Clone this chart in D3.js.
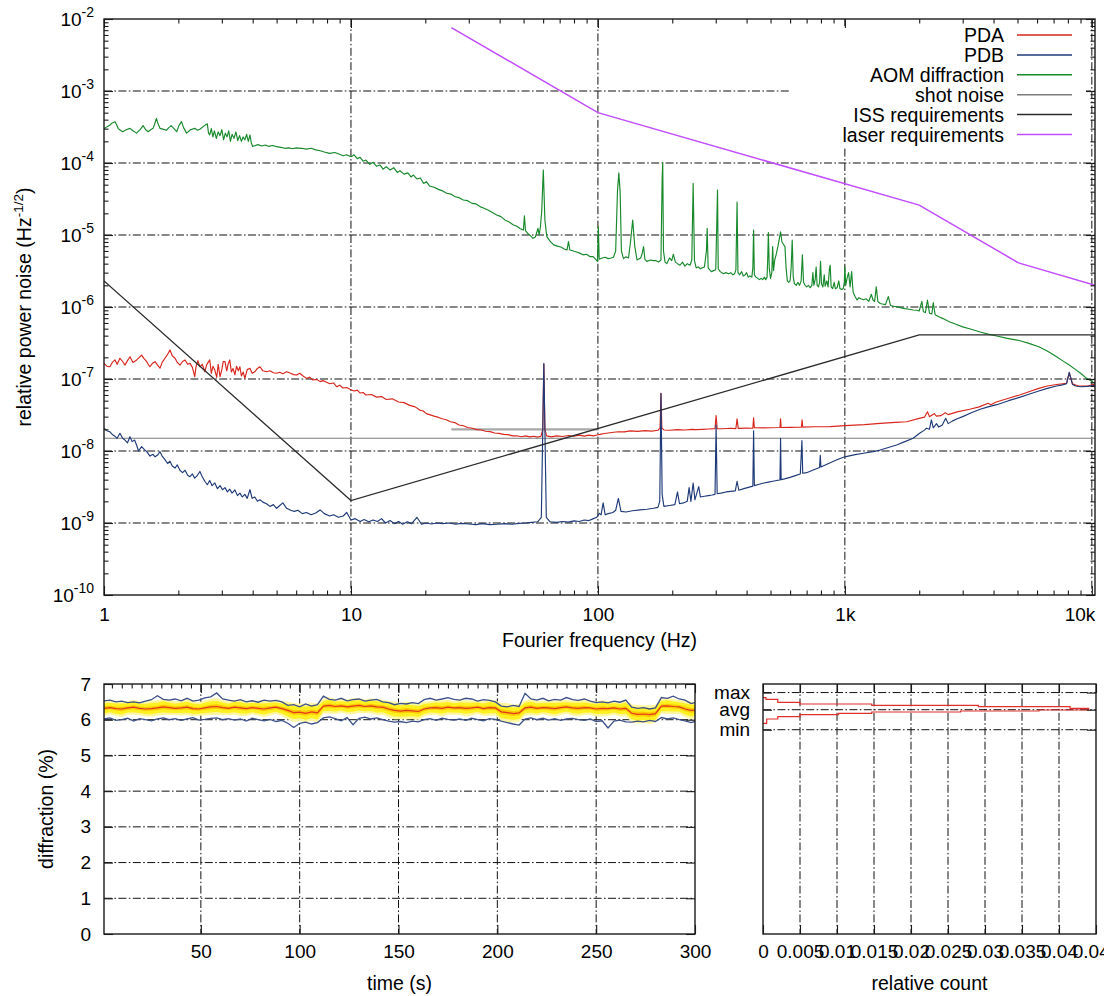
<!DOCTYPE html>
<html><head><meta charset="utf-8">
<script src="https://cdn.jsdelivr.net/npm/d3@7"></script>
<style>
html,body{margin:0;padding:0;background:#fff;}
svg{display:block;}
</style></head><body>
<svg id="c" width="1104" height="996"></svg>
<script>
// ---------------- DATA ----------------
// Spectra: [frequency (Hz), relative power noise (1/sqrt(Hz))]
const PDA = [[1,1.65e-7],[1.03,1.5e-7],[1.057,1.48e-7],[1.08,1.7e-7],[1.108,1.84e-7],[1.13,1.6e-7],[1.16,1.94e-7],[1.19,1.75e-7],[1.216,1.56e-7],[1.245,1.8e-7],[1.274,2.04e-7],[1.31,1.7e-7],[1.356,1.84e-7],[1.39,2.0e-7],[1.42,2.15e-7],[1.455,1.9e-7],[1.49,1.74e-7],[1.51,1.6e-7],[1.535,1.48e-7],[1.57,1.65e-7],[1.61,1.74e-7],[1.65,1.55e-7],[1.685,1.41e-7],[1.72,1.7e-7],[1.765,1.94e-7],[1.81,2.2e-7],[1.85,2.53e-7],[1.89,2.1e-7],[1.94,1.94e-7],[1.98,1.7e-7],[2.03,1.56e-7],[2.08,1.75e-7],[2.13,1.84e-7],[2.18,1.6e-7],[2.23,1.65e-7],[2.28,1.45e-7],[2.33,1.08e-7],[2.36,1.5e-7],[2.4,1.8e-7],[2.445,1.48e-7],[2.5,1.6e-7],[2.56,1.26e-7],[2.6,1.55e-7],[2.64,1.7e-7],[2.68,1.84e-7],[2.72,1.2e-7],[2.76,1.5e-7],[2.81,1.33e-7],[2.86,1.05e-7],[2.9,1.6e-7],[2.95,1.08e-7],[3.0,1.35e-7],[3.04,1.74e-7],[3.09,1.74e-7],[3.14,1.3e-7],[3.18,1.6e-7],[3.23,1.84e-7],[3.28,1.25e-7],[3.33,1.4e-7],[3.39,1.14e-7],[3.44,1.5e-7],[3.5,1.3e-7],[3.55,1.48e-7],[3.6,1.1e-7],[3.66,1.25e-7],[3.72,1.02e-7],[3.8,1.35e-7],[3.9,1.41e-7],[3.98,1.2e-7],[4.08,1.26e-7],[4.18,1.4e-7],[4.28,1.48e-7],[4.4,1.3e-7],[4.55,1.26e-7],[4.7,1.3e-7],[4.85,1.22e-7],[5.0,1.2e-7],[5.15,1.24e-7],[5.3,1.18e-7],[5.49,1.26e-7],[5.7,1.2e-7],[5.85,1.15e-7],[6.03,1.14e-7],[6.2,1.2e-7],[6.4,1.1e-7],[6.62,1.02e-7],[6.8,1.06e-7],[7.0,9.7e-8],[7.26,9.9e-8],[7.5,9.2e-8],[7.7,9.5e-8],[7.97,9.0e-8],[8.2,8.6e-8],[8.5,8.8e-8],[8.76,7.8e-8],[9.0,8.2e-8],[9.3,7.5e-8],[9.61,7.6e-8],[10,7.1e-8],[10.3,6.8e-8],[10.6,7.0e-8],[10.88,6.4e-8],[11.2,6.5e-8],[11.5,6.0e-8],[12.1,6.1e-8],[12.7,5.6e-8],[13.3,5.7e-8],[13.9,5.2e-8],[14.7,5.3e-8],[15.6,4.8e-8],[16.4,4.7e-8],[17.3,4.3e-8],[18.2,4.1e-8],[19.0,3.7e-8],[19.6,3.6e-8],[20.2,3.3e-8],[20.8,3.2e-8],[21.7,3.05e-8],[22.5,2.95e-8],[23.4,2.8e-8],[24.3,2.72e-8],[25.3,2.55e-8],[26.3,2.48e-8],[27.4,2.3e-8],[28.5,2.24e-8],[29.7,2.12e-8],[31,2.07e-8],[32.3,1.98e-8],[33.7,1.96e-8],[35.1,1.88e-8],[36.6,1.86e-8],[38.2,1.78e-8],[39.8,1.76e-8],[41.5,1.7e-8],[43.3,1.69e-8],[45.1,1.62e-8],[46.9,1.63e-8],[49,1.58e-8],[51,1.62e-8],[53,1.57e-8],[55,1.6e-8],[57,1.56e-8],[58.8,1.6e-8],[59.8,2e-8],[60.4,1.6e-7],[61,2e-8],[62,1.62e-8],[65,1.57e-8],[68,1.62e-8],[72,1.59e-8],[76,1.64e-8],[80,1.6e-8],[84,1.66e-8],[88,1.61e-8],[92,1.66e-8],[96,1.62e-8],[99,1.67e-8],[102,1.7e-8],[106,1.75e-8],[110,1.78e-8],[116,1.82e-8],[121,1.85e-8],[128,1.84e-8],[135,1.9e-8],[145,1.87e-8],[155,1.92e-8],[165,1.89e-8],[175,1.94e-8],[178.5,2.1e-8],[180,6.3e-8],[181.5,2.1e-8],[185,1.96e-8],[195,1.94e-8],[210,1.98e-8],[225,1.96e-8],[240,2.0e-8],[250,1.98e-8],[265,2.0e-8],[280,2.02e-8],[298,2.05e-8],[301,3.1e-8],[304,2.05e-8],[320,2.04e-8],[343,2.07e-8],[362,2.05e-8],[366,2.8e-8],[370,2.06e-8],[400,2.08e-8],[424,2.07e-8],[427,2.9e-8],[430,2.1e-8],[467,2.09e-8],[500,2.1e-8],[546,2.12e-8],[549,2.8e-8],[552,2.12e-8],[600,2.13e-8],[636,2.14e-8],[667,2.15e-8],[671,2.7e-8],[675,2.15e-8],[750,2.17e-8],[870,2.18e-8],[1000,2.25e-8],[1200,2.32e-8],[1390,2.42e-8],[1600,2.5e-8],[1780,2.55e-8],[2000,2.84e-8],[2100,2.95e-8],[2160,3.5e-8],[2200,3.0e-8],[2300,3.3e-8],[2350,3.05e-8],[2450,3.1e-8],[2550,3.4e-8],[2620,3.2e-8],[2850,3.5e-8],[3200,3.8e-8],[3500,4.1e-8],[3800,4.6e-8],[3900,4.4e-8],[4100,4.8e-8],[4600,5.4e-8],[5100,6.0e-8],[5600,6.7e-8],[6100,7.4e-8],[6600,8.0e-8],[7200,8.4e-8],[7900,8.7e-8],[8100,1.22e-7],[8350,8.6e-8],[8800,8.0e-8],[9600,8.0e-8],[10300,8.5e-8]];

const PDB = [[1,2.07e-8],[1.03,1.9e-8],[1.057,1.85e-8],[1.08,1.7e-8],[1.108,1.6e-8],[1.13,1.5e-8],[1.16,1.76e-8],[1.19,1.5e-8],[1.216,1.42e-8],[1.245,1.3e-8],[1.274,1.58e-8],[1.3,1.35e-8],[1.33,1.42e-8],[1.356,1.2e-8],[1.38,1.0e-8],[1.42,1.15e-8],[1.455,1.05e-8],[1.49,9.8e-9],[1.535,8.5e-9],[1.58,9.0e-9],[1.61,8.3e-9],[1.65,8.8e-9],[1.685,9.8e-9],[1.72,8.5e-9],[1.765,7.6e-9],[1.81,6.7e-9],[1.85,7.2e-9],[1.89,6.2e-9],[1.94,5.8e-9],[1.98,6.4e-9],[2.03,5.4e-9],[2.08,5.0e-9],[2.13,5.4e-9],[2.18,4.6e-9],[2.23,4.4e-9],[2.28,4.8e-9],[2.33,4.2e-9],[2.39,4.6e-9],[2.445,5.2e-9],[2.5,4.4e-9],[2.56,3.8e-9],[2.62,3.4e-9],[2.68,3.9e-9],[2.74,3.3e-9],[2.81,3.6e-9],[2.88,3.0e-9],[2.95,3.3e-9],[3.02,2.9e-9],[3.09,3.1e-9],[3.16,2.7e-9],[3.23,2.95e-9],[3.3,2.6e-9],[3.39,2.88e-9],[3.47,2.4e-9],[3.55,2.6e-9],[3.63,2.3e-9],[3.72,2.5e-9],[3.8,2.2e-9],[3.9,2.9e-9],[3.98,2.2e-9],[4.08,2.3e-9],[4.18,2.0e-9],[4.28,2.1e-9],[4.4,1.95e-9],[4.55,1.85e-9],[4.7,1.7e-9],[4.85,1.8e-9],[5.0,1.6e-9],[5.15,1.75e-9],[5.3,1.9e-9],[5.49,1.6e-9],[5.7,1.5e-9],[5.9,1.45e-9],[6.1,1.5e-9],[6.35,1.35e-9],[6.6,1.4e-9],[6.9,1.3e-9],[7.2,1.38e-9],[7.5,1.52e-9],[7.8,1.35e-9],[8.2,1.25e-9],[8.5,1.3e-9],[8.9,1.2e-9],[9.3,1.25e-9],[9.61,1.4e-9],[10,1.1e-9],[10.4,1.15e-9],[10.9,1.05e-9],[11.3,1.12e-9],[11.8,1.04e-9],[12.3,1.1e-9],[12.8,1.05e-9],[13.3,1.15e-9],[13.8,1.0e-9],[14.4,1.08e-9],[15.0,0.98e-9],[15.6,1.05e-9],[16.2,0.96e-9],[16.9,1.04e-9],[17.6,0.98e-9],[18.5,1.2e-9],[19.3,0.96e-9],[20.2,1.0e-9],[21.2,0.97e-9],[22.3,1.0e-9],[23.5,0.98e-9],[25,1.0e-9],[26.5,0.96e-9],[28,0.99e-9],[30,0.97e-9],[32,0.95e-9],[34,0.98e-9],[36.5,0.95e-9],[39,0.96e-9],[42,0.98e-9],[45,0.96e-9],[48,0.99e-9],[51,1.0e-9],[54,1.02e-9],[57,1.04e-9],[59,1.2e-9],[59.8,2e-8],[60.4,1.65e-7],[61,2e-8],[61.8,1.2e-9],[64,1.04e-9],[68,1.02e-9],[72,1.05e-9],[76,1.03e-9],[80,1.07e-9],[84,1.05e-9],[88,1.1e-9],[92,1.08e-9],[96,1.15e-9],[99,1.2e-9],[101.3,1.36e-9],[103,1.3e-9],[105,1.9e-9],[107,1.3e-9],[110,1.35e-9],[115,1.4e-9],[118,1.5e-9],[121,2.2e-9],[124,1.45e-9],[130,1.42e-9],[138,1.48e-9],[148,1.52e-9],[158,1.55e-9],[168,1.6e-9],[175,1.65e-9],[178,2e-9],[180,6.3e-8],[182,2.5e-9],[185,1.7e-9],[195,1.75e-9],[205,1.8e-9],[210,2.7e-9],[214,1.85e-9],[222,1.9e-9],[230,2.0e-9],[234,3.1e-9],[238,2.0e-9],[243,3.6e-9],[247,2.1e-9],[256,3.2e-9],[260,2.3e-9],[270,2.35e-9],[280,2.4e-9],[290,2.45e-9],[298,2.5e-9],[301,2.3e-8],[304,2.55e-9],[315,2.6e-9],[330,2.7e-9],[345,2.75e-9],[360,2.8e-9],[366,3.8e-9],[372,2.85e-9],[390,3.0e-9],[410,3.15e-9],[424,3.25e-9],[427,1.9e-8],[430,3.3e-9],[450,3.45e-9],[470,3.6e-9],[490,3.7e-9],[510,3.8e-9],[530,3.9e-9],[546,3.95e-9],[549,1.5e-8],[552,4.0e-9],[570,4.1e-9],[600,4.3e-9],[630,4.55e-9],[660,4.8e-9],[670,1.4e-8],[675,4.9e-9],[700,5.0e-9],[740,5.4e-9],[790,5.9e-9],[795,8.7e-9],[800,6.0e-9],[850,6.6e-9],[900,7.2e-9],[950,7.8e-9],[1000,8.3e-9],[1100,8.9e-9],[1190,9.3e-9],[1300,9.8e-9],[1390,1.03e-8],[1500,1.12e-8],[1620,1.21e-8],[1750,1.35e-8],[1890,1.5e-8],[2000,1.75e-8],[2100,1.95e-8],[2140,2.07e-8],[2200,2.0e-8],[2240,2.7e-8],[2280,2.1e-8],[2350,2.4e-8],[2400,2.15e-8],[2480,2.3e-8],[2560,2.84e-8],[2620,2.4e-8],[2720,2.6e-8],[2850,2.8e-8],[3000,3.0e-8],[3250,3.4e-8],[3530,3.8e-8],[3800,4.1e-8],[4120,4.4e-8],[4600,5.0e-8],[5130,5.6e-8],[5600,6.2e-8],[6100,6.8e-8],[6600,7.4e-8],[7200,8.0e-8],[7600,8.3e-8],[7900,8.6e-8],[8100,1.24e-7],[8350,8.4e-8],[8600,8.0e-8],[9000,7.8e-8],[9600,7.9e-8],[10300,8.2e-8]];

const AOM = [[1,3.0e-4],[1.03,3.2e-4],[1.057,3.37e-4],[1.08,3.6e-4],[1.108,3.75e-4],[1.125,3.4e-4],[1.14,3.03e-4],[1.165,2.85e-4],[1.19,2.72e-4],[1.23,2.9e-4],[1.274,3.03e-4],[1.31,2.8e-4],[1.356,2.6e-4],[1.4,2.9e-4],[1.44,3.3e-4],[1.475,2.9e-4],[1.51,2.72e-4],[1.545,2.9e-4],[1.58,3.03e-4],[1.6,3.4e-4],[1.63,4.17e-4],[1.655,3.5e-4],[1.685,3.03e-4],[1.73,2.95e-4],[1.79,2.85e-4],[1.83,3.1e-4],[1.87,3.3e-4],[1.92,3.0e-4],[1.97,2.72e-4],[2.01,3.3e-4],[2.06,3.75e-4],[2.1,3.1e-4],[2.16,2.6e-4],[2.24,2.9e-4],[2.33,3.03e-4],[2.39,2.85e-4],[2.445,2.95e-4],[2.52,3.2e-4],[2.58,3.4e-4],[2.62,3.5e-4],[2.65,2.6e-4],[2.68,2.45e-4],[2.72,3.0e-4],[2.76,2.3e-4],[2.8,2.8e-4],[2.85,2.2e-4],[2.9,2.7e-4],[2.95,2.4e-4],[3.0,2.9e-4],[3.05,2.1e-4],[3.1,2.6e-4],[3.15,2.3e-4],[3.2,2.8e-4],[3.25,2.0e-4],[3.3,2.5e-4],[3.36,2.2e-4],[3.42,2.7e-4],[3.48,2.05e-4],[3.54,2.4e-4],[3.6,2.0e-4],[3.66,2.3e-4],[3.72,2.1e-4],[3.78,2.5e-4],[3.84,2.0e-4],[3.9,2.45e-4],[3.95,1.9e-4],[4.0,1.69e-4],[4.1,1.75e-4],[4.2,1.8e-4],[4.35,1.72e-4],[4.5,1.78e-4],[4.65,1.7e-4],[4.8,1.75e-4],[5.0,1.69e-4],[5.2,1.65e-4],[5.4,1.6e-4],[5.6,1.62e-4],[5.8,1.58e-4],[6.0,1.62e-4],[6.3,1.6e-4],[6.6,1.56e-4],[6.9,1.6e-4],[7.2,1.52e-4],[7.5,1.48e-4],[7.8,1.42e-4],[8.2,1.36e-4],[8.6,1.4e-4],[9.0,1.32e-4],[9.3,1.26e-4],[9.6,1.3e-4],[10,1.22e-4],[10.3,1.3e-4],[10.6,1.15e-4],[10.9,1.2e-4],[11.2,1.06e-4],[11.5,1.1e-4],[11.9,9.6e-5],[12.3,1.02e-4],[12.7,9.0e-5],[13.1,9.4e-5],[13.5,8.2e-5],[13.9,8.9e-5],[14.4,8.0e-5],[14.9,8.6e-5],[15.4,7.4e-5],[15.8,7.8e-5],[16.4,7.0e-5],[17.0,7.3e-5],[17.5,6.4e-5],[17.9,6.8e-5],[18.5,6.0e-5],[19.1,6.2e-5],[19.7,5.2e-5],[20.2,5.5e-5],[20.8,4.8e-5],[21.7,4.6e-5],[22.6,4.3e-5],[23.5,4.1e-5],[24.4,3.8e-5],[25.4,3.7e-5],[26.4,3.4e-5],[27.4,3.3e-5],[28.5,3.06e-5],[29.7,3.0e-5],[30.9,2.75e-5],[32.1,2.7e-5],[33.3,2.48e-5],[34.6,2.35e-5],[36.0,2.2e-5],[37.4,2.05e-5],[38.9,1.9e-5],[40.5,1.8e-5],[42,1.62e-5],[43.7,1.52e-5],[45.5,1.38e-5],[47,1.32e-5],[48.5,1.22e-5],[49.9,1.17e-5],[50.4,1.84e-5],[50.9,1.15e-5],[52,1.05e-5],[53.3,9.8e-6],[54.6,9.0e-6],[55.8,9.4e-6],[56.6,1.1e-5],[57.2,1.24e-5],[57.8,1.0e-5],[58.5,1.3e-5],[59.2,2.1e-5],[60.1,8.0e-5],[61,1.6e-5],[62.1,9.5e-6],[64,8.2e-6],[66.2,7.3e-6],[68.5,7.0e-6],[70.8,6.8e-6],[73,6.4e-6],[75,6.2e-6],[76,8.1e-6],[77,6.2e-6],[79.5,6.0e-6],[82,5.8e-6],[84.4,5.6e-6],[87,5.3e-6],[90,5.4e-6],[93,5.0e-6],[95.7,5.0e-6],[98,4.6e-6],[99.6,4.3e-6],[100.4,1.3e-5],[101.2,4.6e-6],[104,4.8e-6],[107,4.9e-6],[110,4.7e-6],[113,4.8e-6],[115.6,4.9e-6],[118,6e-6],[120,4.0e-5],[121.5,7.3e-5],[123,4.0e-5],[124.5,6e-6],[126.9,4.7e-6],[130,5.0e-6],[133,4.8e-6],[135.5,8e-6],[138.3,1.61e-5],[141,7e-6],[144,4.5e-6],[149,4.8e-6],[151,5.5e-6],[153,6.9e-6],[155,4.6e-6],[157.8,4.3e-6],[163,4.5e-6],[168,4.4e-6],[172,4.4e-6],[176,4.2e-6],[180,4.5e-6],[182,6e-5],[183,1.01e-4],[184.3,6e-6],[187,4.2e-6],[190,4.0e-6],[195,4.8e-6],[199,4.4e-6],[202,5.4e-6],[206,4.2e-6],[210,4.0e-6],[215,3.8e-6],[220,4.2e-6],[225,3.7e-6],[230,4.0e-6],[236,3.8e-6],[240,4.5e-6],[243,5.2e-5],[246,4.4e-6],[250,3.5e-6],[255,3.6e-6],[260,3.4e-6],[265,3.5e-6],[270,3.6e-6],[275,6e-6],[277,1.24e-5],[279.5,3.5e-6],[283,3.3e-6],[288,3.1e-6],[294,3.2e-6],[300,3.3e-6],[303,1.5e-5],[305,4.2e-5],[307,3.4e-6],[313,3.1e-6],[322,2.9e-6],[330,3.0e-6],[338,2.9e-6],[345,3.0e-6],[352,2.8e-6],[358,2.9e-6],[362,3.3e-6],[366,2.87e-5],[369,3.0e-6],[375,2.8e-6],[382,3.1e-6],[388,2.7e-6],[395,2.8e-6],[400,3.0e-6],[406,2.6e-6],[412,2.7e-6],[420,2.6e-6],[424,3.5e-6],[427,1.17e-5],[430,2.8e-6],[436,2.6e-6],[444,2.5e-6],[451,2.4e-6],[458,2.5e-6],[465,2.4e-6],[472,2.6e-6],[478,2.4e-6],[484,2.6e-6],[487,4.5e-6],[490,1.08e-5],[494,3.5e-6],[500,2.5e-6],[506,3.0e-6],[510,6.9e-6],[514,3.2e-6],[520,4.5e-6],[528,5.5e-6],[536,7.0e-6],[543,9.0e-6],[549,1.11e-5],[556,8.0e-6],[563,7.5e-6],[572,6.9e-6],[578,3.5e-6],[585,2.3e-6],[592,2.2e-6],[600,2.3e-6],[606,3.5e-6],[612,8.5e-6],[618,2.6e-6],[625,2.1e-6],[636,2.0e-6],[645,2.2e-6],[655,2.0e-6],[665,2.3e-6],[673,5.3e-6],[680,2.2e-6],[690,2.0e-6],[700,1.9e-6],[712,2.0e-6],[724,1.85e-6],[735,2.0e-6],[742,3.0e-6],[749,2.0e-6],[758,2.4e-6],[765,3.6e-6],[772,2.0e-6],[782,1.9e-6],[790,2.2e-6],[797,4.3e-6],[804,2.1e-6],[815,1.9e-6],[825,2.8e-6],[832,1.95e-6],[845,2.3e-6],[855,1.9e-6],[866,3.4e-6],[872,3.8e-6],[880,1.9e-6],[892,1.8e-6],[905,2.2e-6],[915,1.8e-6],[930,1.85e-6],[945,2.3e-6],[955,1.8e-6],[970,1.75e-6],[985,1.8e-6],[995,2.2e-6],[1000,3.6e-6],[1008,2.0e-6],[1020,2.5e-6],[1035,3.0e-6],[1050,1.9e-6],[1065,3.1e-6],[1080,1.6e-6],[1100,1.4e-6],[1120,1.25e-6],[1140,1.35e-6],[1160,1.3e-6],[1190,1.26e-6],[1220,1.3e-6],[1250,1.2e-6],[1280,1.5e-6],[1300,1.25e-6],[1320,1.2e-6],[1340,1.9e-6],[1360,1.2e-6],[1390,1.12e-6],[1420,1.1e-6],[1460,1.08e-6],[1500,1.4e-6],[1530,1.05e-6],[1580,1.02e-6],[1620,1.01e-6],[1680,9.8e-7],[1750,9.5e-7],[1820,9.3e-7],[1890,9.1e-7],[1950,9.0e-7],[2000,8.8e-7],[2050,1.2e-6],[2080,8.6e-7],[2120,8.4e-7],[2160,1.25e-6],[2200,8.2e-7],[2250,8.0e-7],[2280,1.15e-6],[2320,7.8e-7],[2400,7.3e-7],[2500,6.9e-7],[2630,6.3e-7],[2800,5.8e-7],[3000,5.3e-7],[3250,4.9e-7],[3530,4.5e-7],[3800,4.2e-7],[4120,3.95e-7],[4500,3.7e-7],[5130,3.4e-7],[5600,3.1e-7],[6100,2.8e-7],[6600,2.45e-7],[7200,2.04e-7],[7600,1.8e-7],[8100,1.56e-7],[8600,1.35e-7],[9000,1.2e-7],[9500,1.03e-7],[10300,8.7e-8]];

const SHOT = [[1,1.5e-8],[10300,1.5e-8]];
const SHOT_SEG = [[25.5,2.0e-8],[100,2.0e-8]];
const ISS = [[1,2.3e-6],[10,2.05e-9],[2000,4.1e-7],[10300,4.1e-7]];
const LASER = [[25.5,7.6e-3],[100,5.0e-4],[2000,2.6e-5],[5050,4.1e-6],[10300,2.0e-6]];

const legendNames = ['PDA','PDB','AOM diffraction','shot noise','ISS requirements','laser requirements'];

const freqTicks = [1,10,100,1000,10000];
const freqTickLabels = ['1','10','100','1k','10k'];
const noiseTicks = [1e-10,1e-9,1e-8,1e-7,1e-6,1e-5,1e-4,1e-3,1e-2];
const noiseTickExp = ['-10','-9','-8','-7','-6','-5','-4','-3','-2'];

// Time series of the diffraction (%)
const times = [1,4,7,10,13,16,19,22,25,28,31,34,37,40,43,46,49,52,55,58,61,64,67,70,73,76,79,82,85,88,91,94,97,100,103,106,109,112,115,118,121,124,127,130,133,136,139,142,145,148,151,154,157,160,163,166,169,172,175,178,181,184,187,190,193,196,199,202,205,208,211,214,217,220,223,226,229,232,235,238,241,244,247,250,253,256,259,262,265,268,271,274,277,280,283,286,289,292,295,298,300];
const diffAvg = [6.32,6.34,6.31,6.30,6.33,6.35,6.32,6.30,6.31,6.33,6.36,6.34,6.32,6.33,6.35,6.31,6.30,6.33,6.36,6.37,6.34,6.32,6.35,6.33,6.31,6.34,6.32,6.30,6.33,6.35,6.31,6.26,6.20,6.21,6.18,6.22,6.19,6.38,6.40,6.37,6.39,6.36,6.38,6.40,6.37,6.39,6.36,6.35,6.30,6.26,6.24,6.26,6.25,6.23,6.30,6.33,6.34,6.32,6.35,6.33,6.34,6.32,6.33,6.35,6.31,6.34,6.33,6.22,6.20,6.17,6.19,6.33,6.35,6.32,6.34,6.33,6.31,6.34,6.36,6.33,6.32,6.34,6.33,6.30,6.32,6.31,6.33,6.30,6.32,6.18,6.15,6.16,6.14,6.17,6.38,6.39,6.37,6.36,6.30,6.26,6.27];
const diffMax = [6.53,6.55,6.50,6.52,6.48,6.50,6.47,6.52,6.56,6.67,6.57,6.55,6.58,6.53,6.60,6.52,6.55,6.61,6.64,6.75,6.58,6.55,6.52,6.56,6.50,6.53,6.49,6.55,6.52,6.54,6.50,6.40,6.42,6.36,6.44,6.38,6.42,6.66,6.57,6.55,6.60,6.53,6.56,6.58,6.52,6.55,6.57,6.50,6.48,6.42,6.46,6.44,6.48,6.45,6.56,6.60,6.55,6.58,6.62,6.57,6.55,6.60,6.58,6.52,6.56,6.54,6.50,6.38,6.36,6.40,6.37,6.74,6.58,6.55,6.60,6.53,6.57,6.55,6.62,6.56,6.54,6.58,6.52,6.48,6.50,6.47,6.52,6.49,6.55,6.35,6.32,6.34,6.30,6.33,6.62,6.60,6.66,6.58,6.55,6.45,6.48];
const diffMin = [6.02,6.05,5.98,6.00,6.04,5.96,6.03,6.00,5.97,6.02,6.05,6.00,6.03,5.98,6.02,6.06,5.99,6.01,6.04,6.05,6.00,6.03,5.99,6.02,5.96,6.04,6.00,5.97,6.01,5.95,5.98,5.90,5.78,5.90,5.93,5.88,5.92,6.05,6.08,6.03,5.97,6.06,5.86,6.04,6.07,6.02,6.05,6.00,5.96,5.93,5.95,5.92,5.96,5.94,6.00,6.03,5.98,6.04,6.01,5.99,6.02,5.98,6.04,6.00,5.97,6.03,6.01,5.96,5.92,5.88,5.85,6.02,6.05,6.00,6.04,5.99,6.03,5.98,6.02,6.04,6.00,5.98,6.02,5.95,5.97,5.77,5.96,5.99,5.94,5.93,5.96,5.94,5.98,5.95,6.06,6.02,6.05,6.00,5.97,5.92,5.95];
const diffSd = [0.11,0.10,0.11,0.12,0.10,0.11,0.10,0.11,0.12,0.11,0.12,0.11,0.10,0.11,0.12,0.11,0.10,0.11,0.12,0.12,0.11,0.10,0.11,0.12,0.11,0.10,0.11,0.12,0.11,0.10,0.11,0.13,0.14,0.13,0.14,0.13,0.14,0.11,0.12,0.11,0.10,0.11,0.12,0.11,0.10,0.11,0.12,0.11,0.12,0.13,0.12,0.13,0.12,0.12,0.11,0.10,0.11,0.12,0.11,0.10,0.11,0.12,0.11,0.10,0.11,0.12,0.11,0.13,0.14,0.13,0.13,0.11,0.12,0.11,0.10,0.11,0.12,0.11,0.10,0.11,0.12,0.11,0.10,0.11,0.12,0.11,0.10,0.11,0.12,0.13,0.14,0.13,0.14,0.13,0.11,0.12,0.11,0.10,0.12,0.13,0.12];
const timeTicks = [50,100,150,200,250,300];
const diffTicks = [0,1,2,3,4,5,6,7];

// Histogram of diffraction values (bin edges in %, relative counts)
const histEdges = [6.62,6.571,6.487,6.44,6.403,6.365,6.319,6.272,6.244,6.216,6.179,6.141,6.085,6.02,5.90];
const histCounts = [0.0004,0.002,0.005,0.0147,0.0291,0.0415,0.044,0.0373,0.0267,0.0147,0.0102,0.005,0.002,0.0005];
const countTicks = [0,0.005,0.01,0.015,0.02,0.025,0.03,0.035,0.04,0.045];
const countTickLabels = ['0','0.005','0.01','0.015','0.02','0.025','0.03','0.035','0.04','0.045'];
const statTicks = [6.76,6.28,5.72];
const statTickLabels = ['max','avg','min'];

// ---------------- DRAWING ----------------
const FONT = '"Liberation Sans", Arial, Helvetica, sans-serif';
const TICKFS = 19, TITLEFS = 19.5;
const GRID_DASH = '8,2.4,1.6,2.4';
const COL = {pda:'#d8261d', pdb:'#1f3a78', aom:'#17892b', shot:'#7d7d7d', iss:'#2a2a2a', laser:'#c24cff'};
const svg = d3.select('#c').attr('font-family', FONT);

function cleanAxis(g, fs){
  g.attr('font-family', FONT).attr('font-size', fs || TICKFS);
  g.select('.domain').remove();
  g.selectAll('.tick line').attr('stroke','#1a1a1a').attr('stroke-width',1.1);
  g.selectAll('.tick text').attr('fill','#000');
}

// ===== Top panel =====
const T = {l:104, r:1095, t:19, b:595};
const x = d3.scaleLog().domain([1,10300]).range([T.l,T.r]);
const y = d3.scaleLog().domain([1e-10,1e-2]).range([T.b,T.t]);

svg.append('clipPath').attr('id','clipT').append('rect')
  .attr('x',T.l).attr('y',T.t).attr('width',T.r-T.l).attr('height',T.b-T.t);

const gT = svg.append('g');
// grid
gT.append('g').selectAll('line').data(freqTicks.slice(1)).join('line')
  .attr('x1',d=>x(d)).attr('x2',d=>x(d)).attr('y1',T.t).attr('y2',T.b)
  .attr('stroke','#111').attr('stroke-width',1).attr('stroke-dasharray',GRID_DASH);
gT.append('g').selectAll('line').data(noiseTicks.slice(1,-1)).join('line')
  .attr('x1',T.l).attr('x2',T.r).attr('y1',d=>y(d)).attr('y2',d=>y(d))
  .attr('stroke','#111').attr('stroke-width',1).attr('stroke-dasharray',GRID_DASH);

const line = d3.line().x(d=>x(d[0])).y(d=>y(d[1]));
const gD = gT.append('g').attr('clip-path','url(#clipT)').attr('fill','none');
gD.append('path').datum(SHOT_SEG).attr('d',line).attr('stroke','#a8a8a8').attr('stroke-width',2.4);
gD.append('path').datum(SHOT).attr('d',line).attr('stroke',COL.shot).attr('stroke-width',1.1);
gD.append('path').datum(AOM).attr('d',line).attr('stroke',COL.aom).attr('stroke-width',1.15).attr('stroke-linejoin','round');
gD.append('path').datum(PDA).attr('d',line).attr('stroke',COL.pda).attr('stroke-width',1.15).attr('stroke-linejoin','round');
gD.append('path').datum(PDB).attr('d',line).attr('stroke',COL.pdb).attr('stroke-width',1.15).attr('stroke-linejoin','round');
gD.append('path').datum(ISS).attr('d',line).attr('stroke',COL.iss).attr('stroke-width',1.3);
gD.append('path').datum(LASER).attr('d',line).attr('stroke',COL.laser).attr('stroke-width',1.5);

// legend
gT.append('rect').attr('x',791).attr('y',26).attr('width',295).attr('height',122).attr('fill','#fff');
const legCols = [COL.pda,COL.pdb,COL.aom,COL.shot,COL.iss,COL.laser];
const lg = gT.append('g');
legendNames.forEach((n,i)=>{
  const yy = 35 + i*19.9;
  lg.append('text').attr('x',1004).attr('y',yy+7).attr('text-anchor','end')
    .attr('font-size',TITLEFS).attr('fill','#000').text(n);
  lg.append('line').attr('x1',1017).attr('x2',1072).attr('y1',yy).attr('y2',yy)
    .attr('stroke',legCols[i]).attr('stroke-width',1.5);
});

// axes ticks
const xMinor = x.ticks().filter(d=>!freqTicks.includes(d));
const yMinor = y.ticks().filter(d=>!noiseTicks.some(t=>Math.abs(t-d)/t<1e-6));
let g;
g = gT.append('g').attr('transform',`translate(0,${T.b})`)
  .call(d3.axisBottom(x).tickValues(freqTicks).tickFormat((d,i)=>freqTickLabels[i]).tickSizeInner(-9).tickSizeOuter(0).tickPadding(13));
cleanAxis(g);
g.selectAll('.tick text').filter((d,i)=>i===freqTicks.length-1).attr('text-anchor','end').attr('dx',3);
g = gT.append('g').attr('transform',`translate(0,${T.b})`)
  .call(d3.axisBottom(x).tickValues(xMinor).tickFormat('').tickSizeInner(-4.5).tickSizeOuter(0));
cleanAxis(g);
g = gT.append('g').attr('transform',`translate(0,${T.t})`)
  .call(d3.axisTop(x).tickValues(freqTicks).tickFormat('').tickSizeInner(-9).tickSizeOuter(0));
cleanAxis(g);
g = gT.append('g').attr('transform',`translate(0,${T.t})`)
  .call(d3.axisTop(x).tickValues(xMinor).tickFormat('').tickSizeInner(-4.5).tickSizeOuter(0));
cleanAxis(g);
g = gT.append('g').attr('transform',`translate(${T.l},0)`)
  .call(d3.axisLeft(y).tickValues(noiseTicks).tickFormat('').tickSizeInner(-9).tickSizeOuter(0));
cleanAxis(g);
g = gT.append('g').attr('transform',`translate(${T.l},0)`)
  .call(d3.axisLeft(y).tickValues(yMinor).tickFormat('').tickSizeInner(-4.5).tickSizeOuter(0));
cleanAxis(g);
g = gT.append('g').attr('transform',`translate(${T.r},0)`)
  .call(d3.axisRight(y).tickValues(noiseTicks).tickFormat('').tickSizeInner(-9).tickSizeOuter(0));
cleanAxis(g);
g = gT.append('g').attr('transform',`translate(${T.r},0)`)
  .call(d3.axisRight(y).tickValues(yMinor).tickFormat('').tickSizeInner(-4.5).tickSizeOuter(0));
cleanAxis(g);

// y tick labels with superscripts
noiseTicks.forEach((v,i)=>{
  const t = gT.append('text').attr('x',T.l-10).attr('y',y(v)+6.5).attr('text-anchor','end')
    .attr('font-size',TICKFS).attr('fill','#000');
  t.append('tspan').text('10');
  t.append('tspan').attr('dy',-8.5).attr('font-size',14).text(noiseTickExp[i]);
});

gT.append('rect').attr('x',T.l).attr('y',T.t).attr('width',T.r-T.l).attr('height',T.b-T.t)
  .attr('fill','none').attr('stroke','#1a1a1a').attr('stroke-width',1.4);

// titles
gT.append('text').attr('x',(T.l+T.r)/2).attr('y',647).attr('text-anchor','middle')
  .attr('font-size',TITLEFS).attr('fill','#000').text('Fourier frequency (Hz)');
const yt1 = gT.append('text').attr('transform',`translate(31,${(T.t+T.b)/2}) rotate(-90)`)
  .attr('text-anchor','middle').attr('font-size',TITLEFS).attr('fill','#000');
yt1.append('tspan').text('relative power noise (Hz');
yt1.append('tspan').attr('dy',-8).attr('font-size',13.5).text('-1/2');
yt1.append('tspan').attr('dy',8).text(')');

// ===== Bottom-left panel: time series =====
const B = {l:104, r:695, t:684, b:934};
const xt = d3.scaleLinear().domain([1,300]).range([B.l,B.r]);
const yd = d3.scaleLinear().domain([0,7]).range([B.b,B.t]);
svg.append('clipPath').attr('id','clipB').append('rect')
  .attr('x',B.l).attr('y',B.t).attr('width',B.r-B.l).attr('height',B.b-B.t);
const gB = svg.append('g');
gB.append('g').selectAll('line').data(timeTicks.slice(0,-1)).join('line')
  .attr('x1',d=>xt(d)).attr('x2',d=>xt(d)).attr('y1',B.t).attr('y2',B.b)
  .attr('stroke','#111').attr('stroke-dasharray',GRID_DASH);
gB.append('g').selectAll('line').data(diffTicks.slice(1,-1)).join('line')
  .attr('x1',B.l).attr('x2',B.r).attr('y1',d=>yd(d)).attr('y2',d=>yd(d))
  .attr('stroke','#111').attr('stroke-dasharray',GRID_DASH);

const idx = times.map((t,i)=>i);
const band = k => d3.area().x(i=>xt(times[i])).y0(i=>yd(diffAvg[i]-k*diffSd[i])).y1(i=>yd(diffAvg[i]+k*diffSd[i]));
const gBD = gB.append('g').attr('clip-path','url(#clipB)');
gBD.append('path').datum(idx).attr('d',band(1.9)).attr('fill','#fff6a0');
gBD.append('path').datum(idx).attr('d',band(1.3)).attr('fill','#fff020');
gBD.append('path').datum(idx).attr('d',band(0.5)).attr('fill','#ffc800');
const tl = arr => d3.line().x(i=>xt(times[i])).y(i=>yd(arr[i]));
gBD.append('path').datum(idx).attr('d',tl(diffAvg)).attr('fill','none').attr('stroke','#e2381c').attr('stroke-width',1.2);
gBD.append('path').datum(idx).attr('d',tl(diffMax)).attr('fill','none').attr('stroke','#3d5189').attr('stroke-width',1.3);
gBD.append('path').datum(idx).attr('d',tl(diffMin)).attr('fill','none').attr('stroke','#3d5189').attr('stroke-width',1.3);

g = gB.append('g').attr('transform',`translate(0,${B.b})`)
  .call(d3.axisBottom(xt).tickValues(timeTicks).tickFormat(d3.format('d')).tickSizeInner(-9).tickSizeOuter(0).tickPadding(11));
cleanAxis(g);
const tMinor = d3.range(5,300,5).filter(d=>d%50!==0);
g = gB.append('g').attr('transform',`translate(0,${B.t})`)
  .call(d3.axisTop(xt).tickValues(tMinor).tickFormat('').tickSizeInner(-4.5).tickSizeOuter(0));
cleanAxis(g);
g = gB.append('g').attr('transform',`translate(0,${B.t})`)
  .call(d3.axisTop(xt).tickValues(timeTicks).tickFormat('').tickSizeInner(-9).tickSizeOuter(0));
cleanAxis(g);
g = gB.append('g').attr('transform',`translate(${B.l},0)`)
  .call(d3.axisLeft(yd).tickValues(diffTicks).tickFormat(d3.format('d')).tickSizeInner(-9).tickSizeOuter(0).tickPadding(13));
cleanAxis(g);
g = gB.append('g').attr('transform',`translate(${B.r},0)`)
  .call(d3.axisRight(yd).tickValues(diffTicks).tickFormat('').tickSizeInner(-9).tickSizeOuter(0));
cleanAxis(g);
gB.append('rect').attr('x',B.l).attr('y',B.t).attr('width',B.r-B.l).attr('height',B.b-B.t)
  .attr('fill','none').attr('stroke','#1a1a1a').attr('stroke-width',1.4);
gB.append('text').attr('x',(B.l+B.r)/2).attr('y',990).attr('text-anchor','middle')
  .attr('font-size',TITLEFS).attr('fill','#000').text('time (s)');
gB.append('text').attr('transform',`translate(53,${(B.t+B.b)/2}) rotate(-90)`)
  .attr('text-anchor','middle').attr('font-size',TITLEFS).attr('fill','#000').text('diffraction (%)');

// ===== Bottom-right panel: histogram =====
const R = {l:763, r:1096, t:684, b:934};
const xh = d3.scaleLinear().domain([0,0.045]).range([R.l,R.r]);
const yh = d3.scaleLinear().domain([0,7]).range([R.b,R.t]);
const gR = svg.append('g');
gR.append('g').selectAll('line').data(countTicks.slice(1,-1)).join('line')
  .attr('x1',d=>xh(d)).attr('x2',d=>xh(d)).attr('y1',R.t).attr('y2',R.b)
  .attr('stroke','#111').attr('stroke-dasharray',GRID_DASH);
gR.append('g').selectAll('line').data(statTicks).join('line')
  .attr('x1',R.l).attr('x2',R.r).attr('y1',d=>yh(d)).attr('y2',d=>yh(d))
  .attr('stroke','#111').attr('stroke-dasharray',GRID_DASH);

const hpts = [[0,histEdges[0]]];
histCounts.forEach((c,i)=>{ hpts.push([c,histEdges[i]]); hpts.push([c,histEdges[i+1]]); });
hpts.push([0,histEdges[histEdges.length-1]]);
gR.append('path').datum(hpts).attr('d',d3.line().x(d=>xh(d[0])).y(d=>yh(d[1])))
  .attr('fill','none').attr('stroke','#e0302a').attr('stroke-width',1.2);

g = gR.append('g').attr('transform',`translate(0,${R.b})`)
  .call(d3.axisBottom(xh).tickValues(countTicks).tickFormat((d,i)=>countTickLabels[i]).tickSizeInner(-9).tickSizeOuter(0).tickPadding(11));
cleanAxis(g);
g = gR.append('g').attr('transform',`translate(0,${R.t})`)
  .call(d3.axisTop(xh).tickValues(countTicks).tickFormat('').tickSizeInner(-9).tickSizeOuter(0));
cleanAxis(g);
g = gR.append('g').attr('transform',`translate(${R.l},0)`)
  .call(d3.axisLeft(yh).tickValues(statTicks).tickFormat((d,i)=>statTickLabels[i]).tickSizeInner(-9).tickSizeOuter(0).tickPadding(13));
cleanAxis(g);
g = gR.append('g').attr('transform',`translate(${R.r},0)`)
  .call(d3.axisRight(yh).tickValues(statTicks).tickFormat('').tickSizeInner(-9).tickSizeOuter(0));
cleanAxis(g);
gR.append('rect').attr('x',R.l).attr('y',R.t).attr('width',R.r-R.l).attr('height',R.b-R.t)
  .attr('fill','none').attr('stroke','#1a1a1a').attr('stroke-width',1.4);
gR.append('text').attr('x',(R.l+R.r)/2).attr('y',990).attr('text-anchor','middle')
  .attr('font-size',TITLEFS).attr('fill','#000').text('relative count');
</script>
</body></html>
